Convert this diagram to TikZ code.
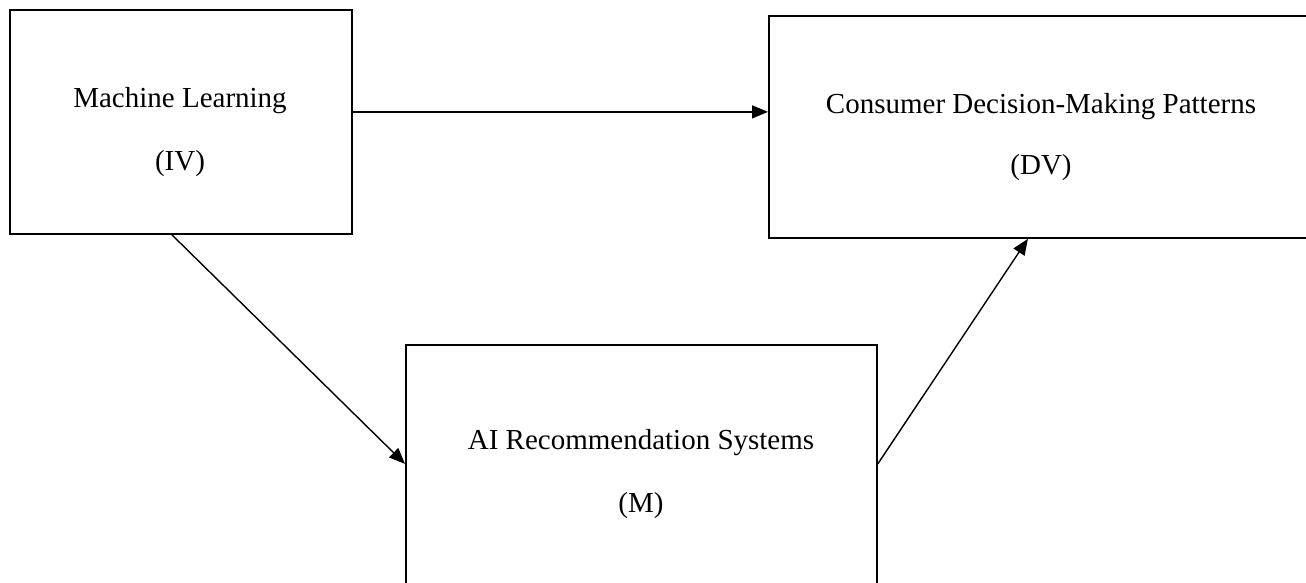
\documentclass[tikz,border=0pt]{standalone}
\usepackage{fontspec}
\setmainfont{Liberation Serif}
\usetikzlibrary{arrows.meta}
\begin{document}
\begin{tikzpicture}[x=1pt,y=-1pt,
  box/.style={draw=black,line width=1.8pt,rectangle,inner sep=0pt,anchor=north west},
  lbl/.style={anchor=base,inner sep=0pt,font=\fontsize{29}{35}\selectfont},
  conn/.style={draw=black,line width=1.4pt,-{Triangle[length=16pt,width=13pt]}}]
\useasboundingbox (0,0) rectangle (1306,583);
% boxes
\node[box,minimum width=342pt,minimum height=224pt] (iv) at (9,9) {};
\node[box,minimum width=540pt,minimum height=222pt] (dv) at (768,15) {};
\node[box,minimum width=471pt,minimum height=260pt] (m) at (405,344) {};
% texts
\node[lbl] (ivt1) at (180,108) {Machine Learning};
\node[lbl] (ivt2) at (180,171) {(IV)};
\node[lbl] (dvt1) at (1041,114) {Consumer Decision-Making Patterns};
\node[lbl] (dvt2) at (1041,175) {(DV)};
\node[lbl] (mt1) at (641,449) {AI Recommendation Systems};
\node[lbl] (mt2) at (641,512) {(M)};
% connectors
\coordinate (a1) at ([yshift=10pt]iv.east);
\draw[conn] (a1) -- (a1 -| dv.west);
\draw[conn] ([xshift=-9pt]iv.south) -- ([yshift=11pt]m.west);
\draw[conn] ([yshift=11pt]m.east) -- ([xshift=-11pt]dv.south);
\end{tikzpicture}
\end{document}
